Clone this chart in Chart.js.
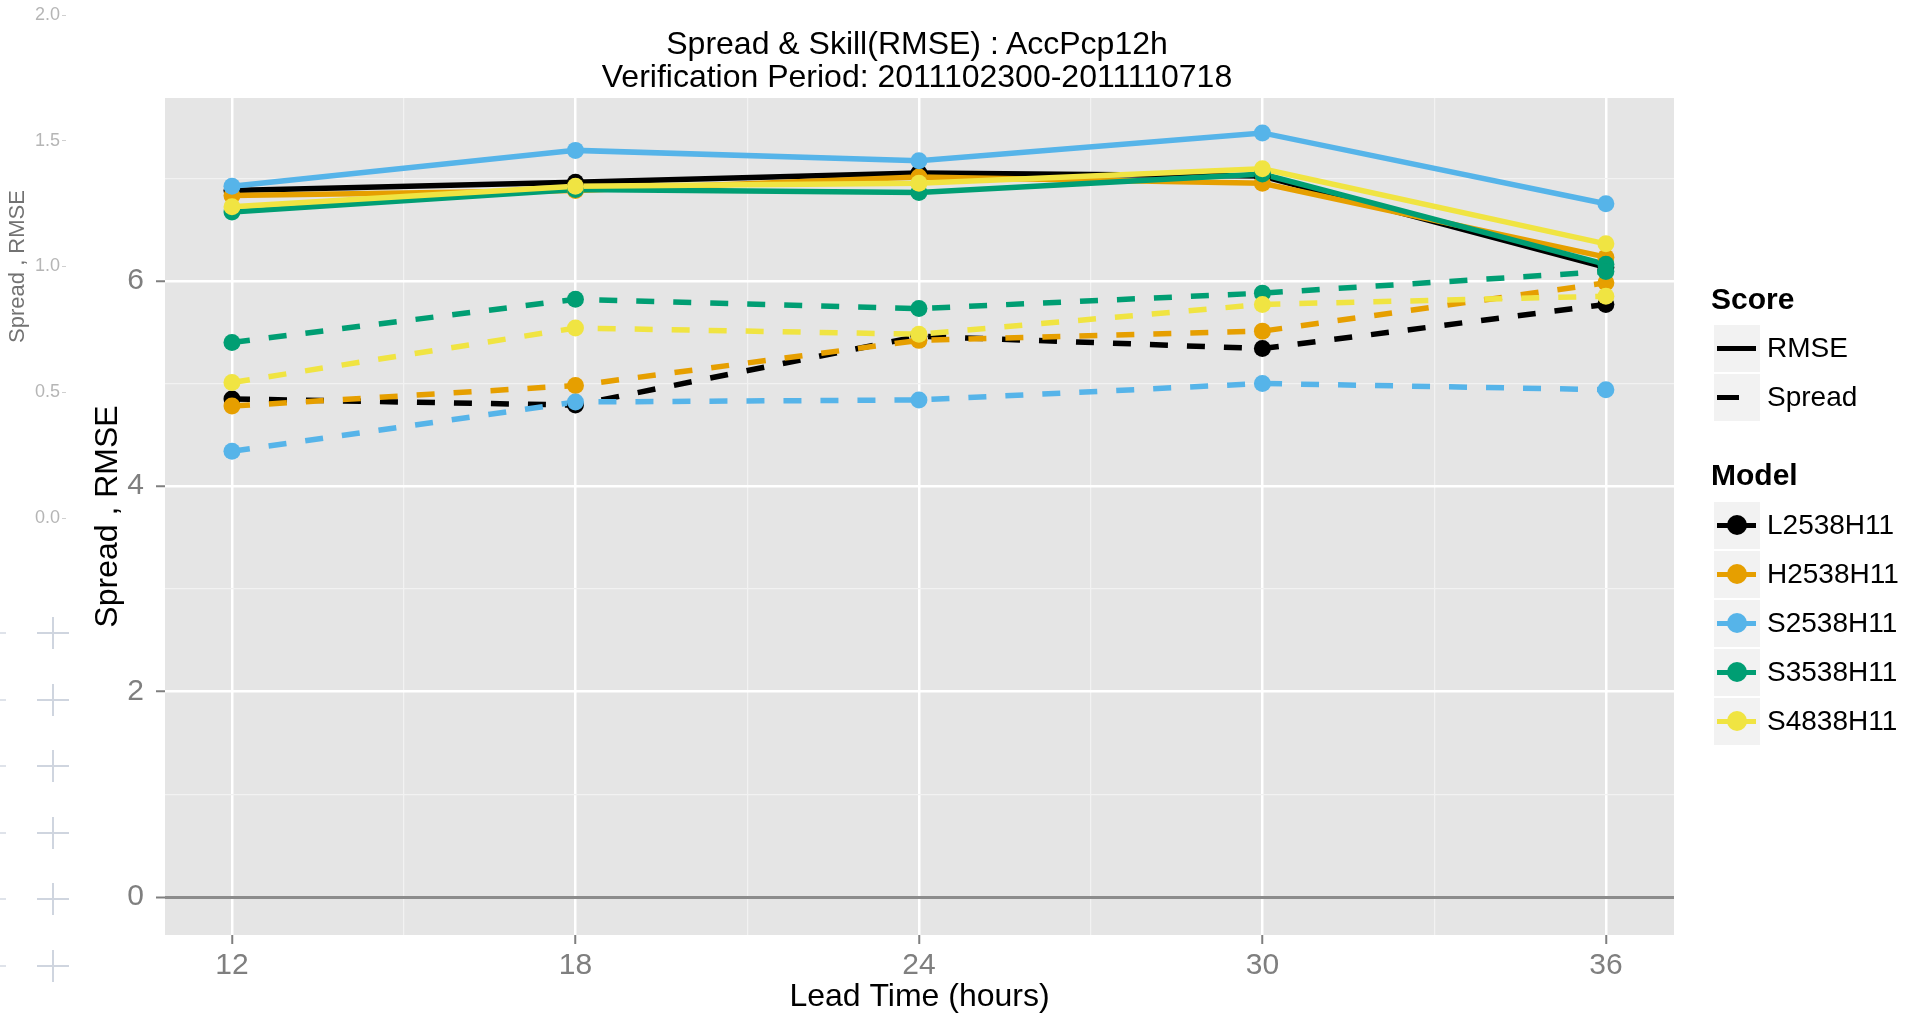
<!DOCTYPE html>
<html lang="en">
<head>
<meta charset="UTF-8">
<title>Spread &amp; Skill(RMSE) : AccPcp12h</title>
<script src="https://cdn.jsdelivr.net/npm/chart.js"></script>
<style>
  body { margin:0; width:1916px; height:1017px; overflow:hidden; background:#fff;
         font-family:"Liberation Sans", Arial, sans-serif; position:relative; }
  canvas { position:absolute; left:0; top:0; }
  #ghost { opacity:0.8; }
  .title { position:absolute; left:417px; top:27px; width:1000px; text-align:center;
           font-size:32px; line-height:33px; color:#000; }
  .lg-title { position:absolute; left:1711px; font-size:30px; font-weight:bold; line-height:34px; }
  .lg-key { position:absolute; left:1714px; width:46px; height:47px; background:#f2f2f2; }
  .lg-key .ln { position:absolute; left:3px; top:21px; height:5px; }
  .lg-key .dot { position:absolute; left:13px; top:13px; width:20px; height:20px; border-radius:50%; }
  .lg-text { position:absolute; left:1767px; font-size:28px; line-height:32px; color:#000; }
  .plus { position:absolute; width:32px; height:32px; }
  .plus::before, .plus::after { content:""; position:absolute; background:#cfd5df; }
  .plus::before { left:0; top:15px; width:32px; height:2px; }
  .plus::after { left:15px; top:0; width:2px; height:32px; }
  .nub { position:absolute; left:0; width:6px; height:2px; background:#dfe3ea; }
</style>
</head>
<body>
<canvas id="ghost" width="90" height="540"></canvas>
<canvas id="main" width="1916" height="1017"></canvas>
<div class="title">Spread &amp; Skill(RMSE) : AccPcp12h<br>Verification Period: 2011102300-2011110718</div>
<div id="legend"></div>
<div id="marks"></div>

<script>
// data
const leadTimes = [12, 18, 24, 30, 36];
const models = ['L2538H11', 'H2538H11', 'S2538H11', 'S3538H11', 'S4838H11'];

const rmseL2538 = [6.88, 6.96, 7.05, 7.02, 6.13];
const rmseH2538 = [6.83, 6.88, 7.01, 6.95, 6.23];
const rmseS2538 = [6.92, 7.27, 7.17, 7.44, 6.75];
const rmseS3538 = [6.67, 6.89, 6.86, 7.04, 6.16];
const rmseS4838 = [6.72, 6.92, 6.95, 7.09, 6.36];

const spreadL2538 = [4.85, 4.79, 5.46, 5.34, 5.77];
const spreadH2538 = [4.78, 4.98, 5.42, 5.51, 5.98];
const spreadS2538 = [4.34, 4.82, 4.84, 5.00, 4.94];
const spreadS3538 = [5.40, 5.82, 5.73, 5.88, 6.09];
const spreadS4838 = [5.01, 5.54, 5.48, 5.77, 5.85];

const xGridValues = [12, 15, 18, 21, 24, 27, 30, 33, 36];
const xTickLabels = [12, 18, 24, 30, 36];
const yGridValues = [0, 1, 2, 3, 4, 5, 6, 7];
const yTickLabels = [0, 2, 4, 6];
const ghostTicks = [0, 0.5, 1, 1.5, 2];

const rmseByModel = [rmseL2538, rmseH2538, rmseS2538, rmseS3538, rmseS4838];
const spreadByModel = [spreadL2538, spreadH2538, spreadS2538, spreadS3538, spreadS4838];

// styles
const modelColors = ['#000000', '#E69F00', '#56B4E9', '#009E73', '#F0E442'];
const X_MIN = 10.83, X_MAX = 37.19, Y_MIN = -0.37, Y_MAX = 7.78;
const AXIS_GREY = '#7f7f7f';

const toPoints = vals => vals.map((v, i) => ({ x: leadTimes[i], y: v }));

// ggplot draws every line first, then every point, model by model
const lineSets = [];
const pointSets = [];
models.forEach((m, i) => {
  [['RMSE', rmseByModel[i], []], ['Spread', spreadByModel[i], [18, 19]]].forEach(([score, vals, dash]) => {
    lineSets.push({
      label: m + ' ' + score, data: toPoints(vals),
      borderColor: modelColors[i], borderWidth: 5.5, borderDash: dash,
      borderCapStyle: 'butt', pointRadius: 0, tension: 0, fill: false
    });
    pointSets.push({
      label: m + ' ' + score + ' pts', data: toPoints(vals), showLine: false,
      pointRadius: 8.5, pointBorderWidth: 0, pointBackgroundColor: modelColors[i],
      pointHoverRadius: 8.5
    });
  });
});
// first dataset is drawn on top in Chart.js
const datasets = lineSets.concat(pointSets).reverse();

const panelBg = {
  id: 'panelBg',
  beforeDraw(chart) {
    const { ctx, chartArea: a } = chart;
    ctx.save();
    ctx.fillStyle = '#E5E5E5';
    ctx.fillRect(a.left, a.top, a.right - a.left, a.bottom - a.top);
    ctx.restore();
  }
};

const tickVal = c => (c.tick ? c.tick.value : null);

new Chart(document.getElementById('main'), {
  type: 'line',
  data: { datasets },
  plugins: [panelBg],
  options: {
    responsive: false,
    animation: false,
    events: [],
    layout: { padding: { left: 0, top: 98, right: 242, bottom: 0 } },
    plugins: { legend: { display: false }, tooltip: { enabled: false } },
    scales: {
      x: {
        type: 'linear', min: X_MIN, max: X_MAX,
        afterBuildTicks: s => { s.ticks = xGridValues.map(v => ({ value: v })); },
        afterFit: s => { s.height = 82; },
        ticks: {
          autoSkip: false, maxRotation: 0, padding: 4,
          color: AXIS_GREY, font: { family: 'Liberation Sans', size: 30 },
          callback: v => (xTickLabels.includes(v) ? String(v) : '')
        },
        grid: {
          color: c => (xTickLabels.includes(tickVal(c)) ? '#ffffff' : '#f2f2f2'),
          lineWidth: c => (xTickLabels.includes(tickVal(c)) ? 2.5 : 1.2),
          tickColor: c => (xTickLabels.includes(tickVal(c)) ? AXIS_GREY : 'rgba(0,0,0,0)'),
          tickLength: 9, tickWidth: 2
        },
        border: { display: false },
        title: {
          display: true, text: 'Lead Time (hours)', color: '#000',
          font: { family: 'Liberation Sans', size: 32, lineHeight: 1.2 },
          padding: { top: 0, bottom: 1 }
        }
      },
      y: {
        min: Y_MIN, max: Y_MAX,
        afterBuildTicks: s => { s.ticks = yGridValues.map(v => ({ value: v })); },
        afterFit: s => { s.width = 165; },
        ticks: {
          autoSkip: false, padding: 12,
          color: AXIS_GREY, font: { family: 'Liberation Sans', size: 30 },
          callback: v => (yTickLabels.includes(v) ? String(v) : '')
        },
        grid: {
          color: c => (tickVal(c) === 0 ? '#8c8c8c' : yTickLabels.includes(tickVal(c)) ? '#ffffff' : '#f2f2f2'),
          lineWidth: c => (tickVal(c) === 0 ? 3 : yTickLabels.includes(tickVal(c)) ? 2.5 : 1.2),
          tickColor: c => (yTickLabels.includes(tickVal(c)) ? AXIS_GREY : 'rgba(0,0,0,0)'),
          tickLength: 9, tickWidth: 2
        },
        border: { display: false },
        title: {
          display: true, text: 'Spread , RMSE', color: '#000',
          font: { family: 'Liberation Sans', size: 32, lineHeight: 1.2 },
          padding: { top: 89, bottom: 0 }
        }
      }
    }
  }
});

// faint leftover axis at the far left of the picture
new Chart(document.getElementById('ghost'), {
  type: 'line',
  data: { datasets: [] },
  options: {
    responsive: false,
    animation: false,
    events: [],
    layout: { padding: { left: 0, top: 15, right: 10, bottom: 22 } },
    plugins: { legend: { display: false }, tooltip: { enabled: false } },
    scales: {
      x: { type: 'linear', display: false, min: 0, max: 1 },
      y: {
        min: 0, max: 2,
        afterBuildTicks: s => { s.ticks = ghostTicks.map(v => ({ value: v })); },
        afterFit: s => { s.width = 66; },
        ticks: {
          padding: 2, color: '#a3a3a3', font: { family: 'Liberation Sans', size: 18 },
          callback: v => v.toFixed(1)
        },
        grid: { drawOnChartArea: false, tickLength: 4, tickColor: '#c4c4c4', tickWidth: 1 },
        border: { display: false },
        title: {
          display: true, text: 'Spread , RMSE', color: '#505050',
          font: { family: 'Liberation Sans', size: 22, lineHeight: 1.2 },
          padding: { top: 5, bottom: 0 }
        }
      }
    }
  }
});

// legend (two guides, like ggplot)
const legend = document.getElementById('legend');
function addTitle(text, centerY) {
  const d = document.createElement('div');
  d.className = 'lg-title';
  d.style.top = (centerY - 17) + 'px';
  d.textContent = text;
  legend.appendChild(d);
}
function addRow(top, text, color, lineW, withDot) {
  const k = document.createElement('div');
  k.className = 'lg-key';
  k.style.top = top + 'px';
  const ln = document.createElement('div');
  ln.className = 'ln';
  ln.style.width = lineW + 'px';
  ln.style.background = color;
  k.appendChild(ln);
  if (withDot) {
    const dot = document.createElement('div');
    dot.className = 'dot';
    dot.style.background = color;
    k.appendChild(dot);
  }
  legend.appendChild(k);
  const t = document.createElement('div');
  t.className = 'lg-text';
  t.style.top = (top + 23 - 16) + 'px';
  t.textContent = text;
  legend.appendChild(t);
}
addTitle('Score', 299);
addRow(325, 'RMSE', '#000', 39, false);
addRow(374, 'Spread', '#000', 22, false);
addTitle('Model', 475);
models.forEach((m, i) => addRow(502 + i * 49, m, modelColors[i], 39, true));

// leftover crosshair marks at the far left
const marks = document.getElementById('marks');
for (let i = 0; i < 7; i++) {
  const cy = 633 + i * 66.6;
  const p = document.createElement('div');
  p.className = 'plus';
  p.style.left = '37px';
  p.style.top = (cy - 16) + 'px';
  marks.appendChild(p);
  const n = document.createElement('div');
  n.className = 'nub';
  n.style.top = (cy - 1) + 'px';
  marks.appendChild(n);
}
</script>
</body>
</html>
